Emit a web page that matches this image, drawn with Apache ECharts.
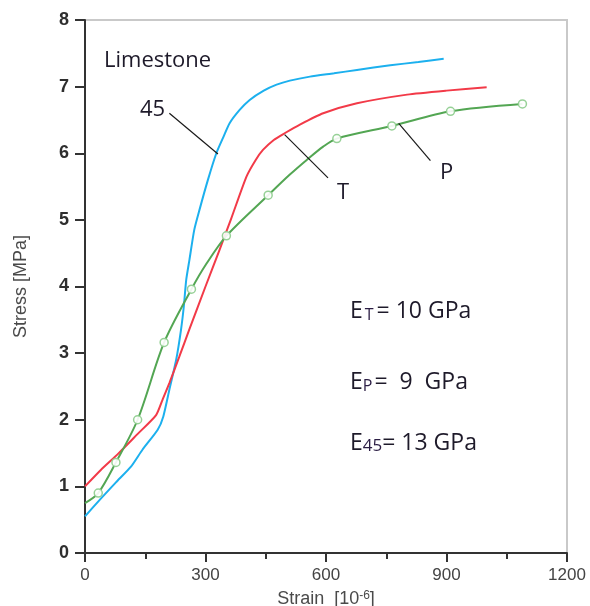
<!DOCTYPE html>
<html>
<head>
<meta charset="utf-8">
<script src="https://cdn.jsdelivr.net/npm/echarts@6/dist/echarts.min.js"></script>
<style>
  html, body { margin: 0; padding: 0; background: #fff; }
  #chart { width: 590px; height: 606px; }
</style>
</head>
<body>
<div id="chart"></div>
<script>
// Limestone stress–strain curves for three loading orientations

// 45° orientation
const strain45 = [0, 40, 77, 115, 143, 181, 195, 210, 227, 239, 246, 252, 260, 272, 285, 306, 327, 345, 360, 385, 410, 445, 477, 510, 560, 620, 677, 760, 830, 893];
const stress45 = [0.55, 0.82, 1.06, 1.3, 1.55, 1.85, 2.05, 2.45, 2.9, 3.35, 3.7, 4.1, 4.4, 4.85, 5.15, 5.6, 6.0, 6.25, 6.45, 6.65, 6.8, 6.94, 7.03, 7.09, 7.15, 7.2, 7.25, 7.32, 7.37, 7.42];

// T orientation
const strainT = [0, 40, 81, 130, 177, 193, 210, 235, 260, 300, 335, 364, 402, 425, 443, 470, 497, 535, 593, 677, 802, 900, 1000];
const stressT = [1.0, 1.25, 1.48, 1.78, 2.07, 2.3, 2.55, 2.95, 3.36, 4.0, 4.55, 5.02, 5.65, 5.9, 6.05, 6.2, 6.3, 6.43, 6.6, 6.75, 6.88, 6.94, 6.99];

// P orientation (curve)
const strainP = [0, 33, 77, 131, 197, 265, 301, 352, 456, 510, 552, 593, 627, 764, 910, 1089];
const stressP = [0.75, 0.9, 1.36, 2.0, 3.16, 3.96, 4.33, 4.76, 5.37, 5.68, 5.9, 6.1, 6.22, 6.41, 6.63, 6.74];
// P orientation (measured points)
const markStrainP = [33, 77, 131, 197, 265, 352, 456, 627, 764, 910, 1089];
const markStressP = [0.9, 1.36, 2.0, 3.16, 3.96, 4.76, 5.37, 6.22, 6.41, 6.63, 6.74];

// Leader lines from each curve to its tag: [strain, stress] start and end
const leader45 = [[210, 6.6], [331, 5.99]];
const leaderT = [[497, 6.28], [605, 5.63]];
const leaderP = [[781, 6.45], [860, 5.89]];

const strainTicks = [0, 300, 600, 900, 1200];
const stressTicks = [0, 1, 2, 3, 4, 5, 6, 7, 8];

const pairs = (xs, ys) => xs.map((x, i) => [x, ys[i]]);
const leader = (seg) => ({
  silent: true,
  symbol: ['none', 'none'],
  lineStyle: { color: '#1a1a1a', width: 1.2, type: 'solid' },
  label: { show: false },
  emphasis: { disabled: true },
  data: [[{ coord: seg[0] }, { coord: seg[1] }]]
});

const chart = echarts.init(document.getElementById('chart'), null, { renderer: 'canvas' });

const textFont = '"Open Sans", "Liberation Sans", sans-serif';
const axisFont = '"Liberation Sans", Arial, sans-serif';
const sub = (font) => ({ font: font, fill: '#2b1d44', lineHeight: 18, verticalAlign: 'bottom' });
const main = { font: '23px ' + textFont, fill: '#1e1a2a', lineHeight: 28, verticalAlign: 'bottom' };

chart.setOption({
  animation: false,
  backgroundColor: '#ffffff',
  grid: {
    left: 85, right: 23, top: 20, bottom: 53,
    outerBoundsMode: 'none',
    containLabel: false,
    show: true, borderColor: '#c9c9c9', borderWidth: 2, backgroundColor: 'transparent'
  },
  xAxis: {
    type: 'value',
    min: strainTicks[0],
    max: strainTicks[strainTicks.length - 1],
    interval: strainTicks[1] - strainTicks[0],
    name: 'Strain  [10{sup|-6}]',
    nameLocation: 'middle',
    nameGap: 37,
    nameTextStyle: {
      fontFamily: axisFont, fontSize: 18, color: '#4a4a4a',
      rich: { sup: { fontFamily: axisFont, fontSize: 12, color: '#4a4a4a', verticalAlign: 'top', lineHeight: 10 } }
    },
    axisLine: { show: true, onZero: false, lineStyle: { color: '#333', width: 2 } },
    axisTick: { show: true, inside: false, length: 9, lineStyle: { color: '#333', width: 2 } },
    minorTick: { show: true, splitNumber: 2, length: 6, lineStyle: { color: '#333', width: 2 } },
    axisLabel: { fontFamily: axisFont, fontSize: 17, color: '#444', margin: 14, formatter: (v) => String(v) },
    splitLine: { show: false }
  },
  yAxis: {
    type: 'value',
    min: stressTicks[0],
    max: stressTicks[stressTicks.length - 1],
    interval: stressTicks[1] - stressTicks[0],
    name: 'Stress [MPa]',
    nameLocation: 'middle',
    nameRotate: 90,
    nameGap: 55,
    nameTextStyle: { fontFamily: axisFont, fontSize: 18, color: '#4a4a4a' },
    axisLine: { show: true, onZero: false, lineStyle: { color: '#333', width: 2 } },
    axisTick: { show: true, inside: false, length: 10, lineStyle: { color: '#333', width: 2 } },
    axisLabel: { fontFamily: axisFont, fontSize: 18, color: '#2e2e2e', margin: 16, fontWeight: 'bold' },
    splitLine: { show: false }
  },
  series: [
    {
      name: '45', type: 'line', data: pairs(strain45, stress45),
      showSymbol: false, smooth: 0.2,
      lineStyle: { color: '#1cb0ee', width: 2 },
      itemStyle: { color: '#1cb0ee' },
      markLine: leader(leader45)
    },
    {
      name: 'T', type: 'line', data: pairs(strainT, stressT),
      showSymbol: false, smooth: 0.2,
      lineStyle: { color: '#f23a48', width: 2 },
      itemStyle: { color: '#f23a48' },
      markLine: leader(leaderT)
    },
    {
      name: 'P', type: 'line', data: pairs(strainP, stressP),
      showSymbol: false, smooth: 0.3,
      lineStyle: { color: '#53a653', width: 2 },
      itemStyle: { color: '#53a653' },
      markLine: leader(leaderP)
    },
    {
      name: 'P points', type: 'scatter', data: pairs(markStrainP, markStressP),
      symbol: 'circle', symbolSize: 8,
      itemStyle: { color: '#ffffff', borderColor: '#8ccc8c', borderWidth: 1.5, opacity: 0.9 },
      z: 3
    }
  ],
  graphic: [
    { type: 'text', left: 104, top: 50,
      style: { text: 'Limestone', font: '22px ' + textFont, fill: '#1e1a2a' } },
    { type: 'text', left: 140, top: 99,
      style: { text: '45', font: '22px ' + textFont, fill: '#1e1a2a' } },
    { type: 'text', left: 337, top: 182,
      style: { text: 'T', font: '22px ' + textFont, fill: '#1e1a2a' } },
    { type: 'text', left: 440, top: 162,
      style: { text: 'P', font: '22px ' + textFont, fill: '#1e1a2a' } },
    { type: 'text', left: 350, top: 300,
      style: { text: '{m|E}{s|T}{m|= 10 GPa}', rich: { m: main, s: Object.assign(sub('16px ' + textFont), { padding: [0, 3, 0, 2] }) } } },
    { type: 'text', left: 350, top: 371,
      style: { text: '{m|E}{s|P}{m|=  9  GPa}', rich: { m: main, s: Object.assign(sub('16px ' + textFont), { padding: [0, 2, 0, 0] }) } } },
    { type: 'text', left: 350, top: 432,
      style: { text: '{m|E}{s|45}{m|= 13 GPa}', rich: { m: main, s: sub('17px ' + textFont) } } }
  ]
});
</script>
</body>
</html>
